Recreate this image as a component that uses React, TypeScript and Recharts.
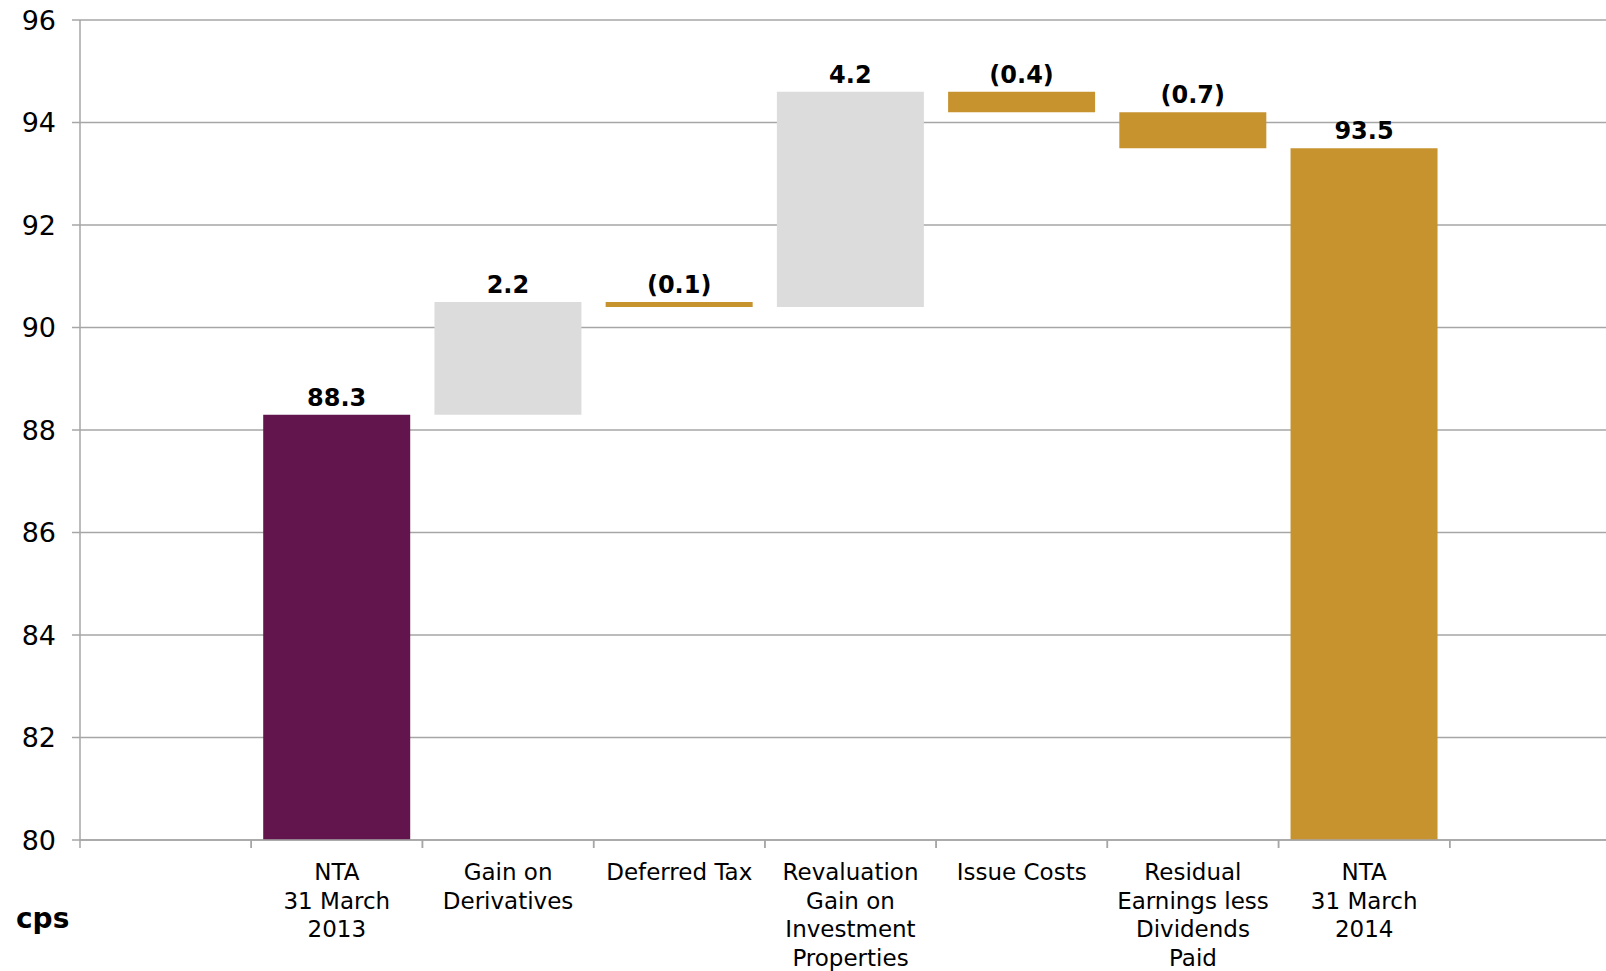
import React from 'react';
import { BarChart, Bar, XAxis, YAxis, CartesianGrid, Cell, LabelList } from 'recharts';

const categories: string[] = [
  '',
  'NTA\n31 March\n2013',
  'Gain on\nDerivatives',
  'Deferred Tax',
  'Revaluation\nGain on\nInvestment\nProperties',
  'Issue Costs',
  'Residual\nEarnings less\nDividends\nPaid',
  'NTA\n31 March\n2014',
  '',
];
const openingNTA = 88.3;
const movements: number[] = [2.2, -0.1, 4.2, -0.4, -0.7];
const closingNTA = 93.5;
const yTicks: number[] = [80, 82, 84, 86, 88, 90, 92, 94, 96];
const Y_MIN = 80;
const Y_MAX = 96;

const PURPLE = '#62144D';
const GREY = '#DCDCDC';
const GOLD = '#C7932F';
const AXIS = '#A6A6A6';
const FONT = '"DejaVu Sans", Verdana, sans-serif';

const fmt = (v: number) => (v < 0 ? `(${Math.abs(v).toFixed(1)})` : v.toFixed(1));

type Row = { name: string; range: [number, number] | null; label: string; color: string };

const buildData = (): Row[] => {
  const rows: Row[] = [];
  rows.push({ name: categories[0], range: null, label: '', color: GREY });
  rows.push({ name: categories[1], range: [Y_MIN, openingNTA], label: fmt(openingNTA), color: PURPLE });
  let level = openingNTA;
  movements.forEach((m, i) => {
    const next = Math.round((level + m) * 100) / 100;
    rows.push({
      name: categories[2 + i],
      range: [Math.min(level, next), Math.max(level, next)],
      label: fmt(m),
      color: m >= 0 ? GREY : GOLD,
    });
    level = next;
  });
  rows.push({ name: categories[7], range: [Y_MIN, closingNTA], label: fmt(closingNTA), color: GOLD });
  rows.push({ name: categories[8], range: null, label: '', color: GREY });
  return rows;
};

const data = buildData();

const CategoryTick = (props: any) => {
  const { x, y, payload } = props;
  const half = typeof payload?.offset === 'number' && payload.offset > 1 ? payload.offset : 85.6;
  const lines = String(payload?.value ?? '').split('\n');
  return (
    <g>
      <line x1={x - half} x2={x - half} y1={y} y2={y + 8} stroke={AXIS} strokeWidth={1.5} />
      <line x1={x + half} x2={x + half} y1={y} y2={y + 8} stroke={AXIS} strokeWidth={1.5} />
      {lines.map((l, i) => (
        <text
          key={i}
          x={x}
          y={y + 40 + i * 28.5}
          textAnchor="middle"
          fontFamily={FONT}
          fontSize={23}
          fill="#000"
        >
          {l}
        </text>
      ))}
    </g>
  );
};

const ValueLabel = (props: any) => {
  const { x, y, width, value } = props;
  if (!value) return null;
  return (
    <text
      x={x + width / 2}
      y={y - 9}
      textAnchor="middle"
      fontFamily={FONT}
      fontWeight="bold"
      fontSize={24}
      fill="#000"
    >
      {value}
    </text>
  );
};

export default function App() {
  return (
    <div
      style={{
        position: 'absolute',
        left: 0,
        top: 0,
        width: 1606,
        height: 971,
        overflow: 'hidden',
        background: '#fff',
      }}
    >
      <BarChart
        width={1640}
        height={971}
        data={data}
        margin={{ top: 20, right: 19, bottom: 0, left: 0 }}
        barCategoryGap="7%"
      >
        <CartesianGrid vertical={false} stroke={AXIS} strokeWidth={1.5} />
        <XAxis
          dataKey="name"
          interval={0}
          tickSize={0}
          tickMargin={0}
          tickLine={false}
          axisLine={{ stroke: AXIS, strokeWidth: 1.5 }}
          height={131}
          tick={<CategoryTick />}
        />
        <YAxis
          type="number"
          domain={[Y_MIN, Y_MAX]}
          ticks={yTicks}
          interval={0}
          allowDataOverflow
          width={80}
          tickSize={8}
          tickMargin={16}
          axisLine={{ stroke: AXIS, strokeWidth: 1.5 }}
          tickLine={{ stroke: AXIS, strokeWidth: 1.5 }}
          tick={{ fill: '#000', fontSize: 27, fontFamily: FONT }}
        />
        <Bar dataKey="range" isAnimationActive={false}>
          {data.map((d, i) => (
            <Cell key={i} fill={d.color} />
          ))}
          <LabelList dataKey="label" content={<ValueLabel />} />
        </Bar>
      </BarChart>
      <div
        style={{
          position: 'absolute',
          left: 16,
          top: 905,
          fontFamily: FONT,
          fontWeight: 'bold',
          fontSize: 28,
          lineHeight: 1,
          color: '#000',
        }}
      >
        cps
      </div>
    </div>
  );
}
